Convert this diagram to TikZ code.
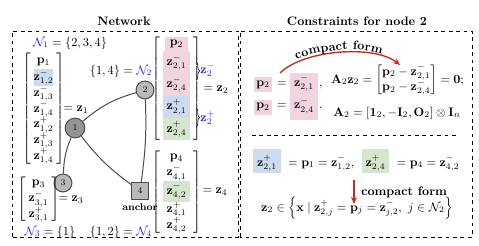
\documentclass[tikz,border=0pt]{standalone}
\usepackage{amsmath,amssymb}
\usepackage{tikz}
\usepackage{xcolor}
\usetikzlibrary{arrows.meta, positioning, matrix, decorations.pathreplacing, decorations.text}

\definecolor{hlpink}{RGB}{242,212,224}
\definecolor{hlblue}{RGB}{206,218,238}
\definecolor{hlgreen}{RGB}{214,230,206}
\definecolor{arcred}{RGB}{186,48,30}
\definecolor{nblue}{RGB}{35,35,235}
\definecolor{edgegray}{RGB}{75,75,75}

\tikzset{
  panel/.style={draw, dashed, thick},
  agent/.style={circle, draw=edgegray, thick, fill=black!27, font=\scriptsize,
    inner sep=0pt, minimum size=14.5pt},
  link/.style={draw=edgegray, thick},
  vecmat/.style={matrix of math nodes, left delimiter={[}, right delimiter={]},
    inner sep=1pt, row sep=0pt, nodes={inner sep=0pt, anchor=center}},
  cellz/.style={fill=#1, minimum width=22pt},
  hlbox/.style={inner sep=1.5pt, text height=6pt, text depth=3pt},
  hlbig/.style={inner sep=2.5pt, text height=11pt, text depth=3.5pt, minimum width=22.5pt},
  redarrow/.style={-{Stealth[length=2mm, width=1.7mm]}, arcred, line width=1.1pt},
}

\begin{document}
\begin{tikzpicture}[x=0.81pt, y=0.81pt, line join=round]
    \useasboundingbox (0,0) rectangle (479,245);
    % Rahmen und Titel
    \draw[panel] (12,8) rectangle (238,214);
    \draw[panel] (240,8) rectangle (472,214);
    \draw[panel] (252,110) -- (458,110);
    \node[font=\bfseries] (tnet) at (124,224) {Network};
    \node[font=\bfseries] (tcon) at (357,224) {Constraints for node 2};
    % Netzwerk
    \node[agent, fill=black!42, minimum size=16pt] (n1) at (75,117) {1};
    \node[agent] (n2) at (145,155) {2};
    \node[agent] (n3) at (63,62) {3};
    \node[agent, rectangle, minimum size=13pt] (n4) at (140,54) {4};
    \node[font=\footnotesize\bfseries, below=0pt of n4] (anc) {anchor};
    \draw[link] (n1) to[bend left=12] (n2);
    \draw[link] (n1) to[bend right=10] (n3);
    \draw[link] (n1) to[bend right=8] (n4);
    \draw[link] (n2) to[bend left=5] (n4);
    % Nachbarmengen
    \node (nb1) at (70,202) {$\color{nblue}\mathcal{N}_1\color{black} = \{2,3,4\}$};
    \node (nb2) at (121,174) {$\{1,4\} = \color{nblue}\mathcal{N}_2$};
    \node (nb3) at (50,13) {$\color{nblue}\mathcal{N}_3\color{black} = \{1\}$};
    \node (nb4) at (121,13) {$\{1,2\} = \color{nblue}\mathcal{N}_4$};
    % Vektoren z_i
    \matrix (z1m) [vecmat, nodes={minimum height=12.5pt}] at (43.5,136) {
      \mathbf{p}_1 \\
      |[fill=hlblue, minimum width=14.5pt, minimum height=13.5pt]| \mathbf{z}^-_{1,2} \\
      \mathbf{z}^-_{1,3} \\
      \mathbf{z}^-_{1,4} \\
      \mathbf{z}^+_{1,2} \\
      \mathbf{z}^+_{1,3} \\
      \mathbf{z}^+_{1,4} \\
    };
    \node (eqz1) at (76,135) {$= \mathbf{z}_1$};
    \matrix (z2m) [vecmat, nodes={minimum height=18pt}] at (176.5,156.5) {
      |[fill=hlpink, minimum height=12pt, minimum width=19pt]| \mathbf{p}_2 \\
      |[cellz=hlpink]| \mathbf{z}^-_{2,1} \\
      |[cellz=hlpink]| \mathbf{z}^-_{2,4} \\
      |[cellz=hlblue]| \mathbf{z}^+_{2,1} \\
      |[cellz=hlgreen]| \mathbf{z}^+_{2,4} \\
    };
    \draw[decorate, decoration={brace, amplitude=3pt}] (196,183) -- (196,165);
    \draw[decorate, decoration={brace, amplitude=3pt}] (196,137) -- (196,118);
    \node[anchor=west, inner sep=1pt] (zm2) at (199,175) {$\color{nblue}\mathbf{z}_2^-$};
    \node[anchor=west, inner sep=1pt] (zp2) at (199,127) {$\color{nblue}\mathbf{z}_2^+$};
    \node (eqz2) at (216,155) {$= \mathbf{z}_2$};
    \matrix (z3m) [vecmat, nodes={minimum height=12pt}] at (38.5,45.5) {
      \mathbf{p}_3 \\
      \mathbf{z}^-_{3,1} \\
      \mathbf{z}^+_{3,1} \\
    };
    \node (eqz3) at (71,45) {$= \mathbf{z}_3$};
    \matrix (z4m) [vecmat, nodes={minimum height=11.5pt}] at (176.5,53) {
      \mathbf{p}_4 \\
      \mathbf{z}^-_{4,1} \\
      |[cellz=hlgreen, minimum height=17pt]| \mathbf{z}^-_{4,2} \\
      \mathbf{z}^+_{4,1} \\
      \mathbf{z}^+_{4,2} \\
    };
    \node (eqz4) at (215,53) {$= \mathbf{z}_4$};
    % Nebenbedingungen fuer Knoten 2
    \fill[hlpink] (290,172) rectangle (318,125);
    \node[hlbox, fill=hlpink, anchor=base] (p2a) at (263,159) {$\mathbf{p}_2$};
    \node[hlbox, fill=hlpink, anchor=base] (p2b) at (263,136) {$\mathbf{p}_2$};
    \node[anchor=base] (eqa) at (282,159) {$=$};
    \node[anchor=base] (eqb) at (282,136) {$=$};
    \node[anchor=base] (z21) at (304,159) {$\mathbf{z}^-_{2,1}$};
    \node[anchor=base] (z24) at (304,136) {$\mathbf{z}^-_{2,4}$};
    \node[anchor=base west, inner sep=0pt] (ca) at (319,159) {$,$};
    \node[anchor=base west, inner sep=0pt] (cb) at (319,136) {$.$};
    \node (a2eq) at (397.5,165) {$\mathbf{A}_2\mathbf{z}_2 =
      \begin{bmatrix} \mathbf{p}_2-\mathbf{z}^-_{2,1}\\ \mathbf{p}_2-\mathbf{z}^-_{2,4} \end{bmatrix}
      = \mathbf{0};$};
    \node (a2def) at (397,132) {$\mathbf{A}_2 = [\mathbf{1}_2, -\mathbf{I}_2, \mathbf{O}_2]\otimes \mathbf{I}_n$};
    \coordinate (arcS) at (280,172);
    \coordinate (arcE) at (400,180);
    \draw[redarrow] (arcS) .. controls (305,196) and (375,200) .. (arcE);
    \path[decorate, decoration={text along path, text={|\bfseries|compact form},
      text align=center, raise=2pt}] (arcS) .. controls (305,196) and (375,200) .. (arcE);
    % untere Haelfte
    \node[hlbig, fill=hlblue, anchor=base] (zp21) at (267,79) {$\mathbf{z}^+_{2,1}$};
    \node[anchor=base west, inner sep=0pt] (rel1) at (zp21.base east)
      {${}\;= \mathbf{p}_1 = \mathbf{z}^-_{1,2},$};
    \node[hlbig, fill=hlgreen, anchor=base] (zp24) at (375.5,79) {$\mathbf{z}^+_{2,4}$};
    \node[anchor=base west, inner sep=0pt] (rel4) at (zp24.base east)
      {${}\;= \mathbf{p}_4 = \mathbf{z}^-_{4,2}$};
    \coordinate (cfS) at (354,65);
    \coordinate (cfE) at (354,41);
    \draw[redarrow] (cfS) -- (cfE);
    \node[font=\bfseries, anchor=west, inner sep=0pt] (cftxt) at (361,53) {compact form};
    \node (zset) at (357,37) {$\mathbf{z}_2 \in \Big\{\mathbf{x} \mid \mathbf{z}^+_{2,j} = \mathbf{p}_j
      = \mathbf{z}^-_{j,2},\ j\in\mathcal{N}_2\Big\}$};
\end{tikzpicture}
\end{document}
